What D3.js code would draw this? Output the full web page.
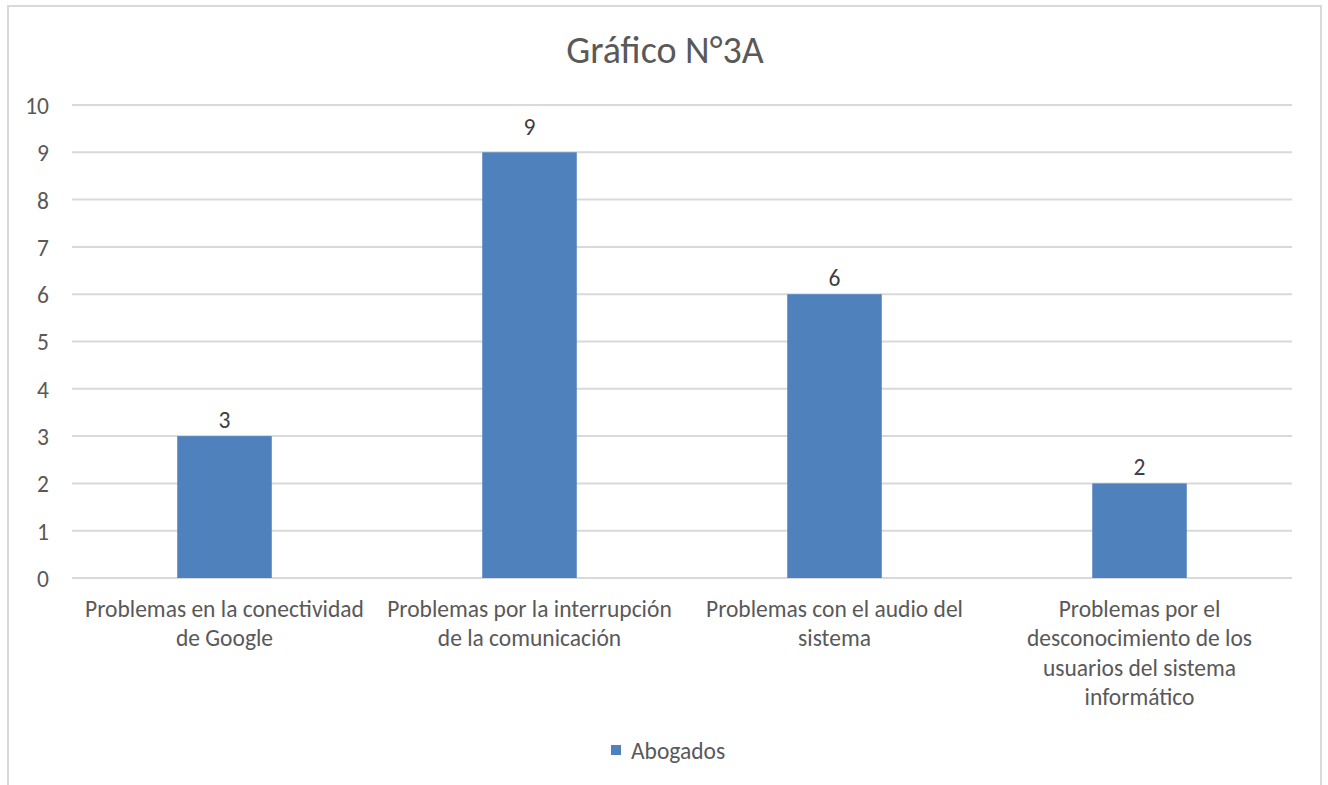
<!DOCTYPE html>
<html><head><meta charset="utf-8">
<script src="https://cdn.jsdelivr.net/npm/d3@7"></script>
<style>body{margin:0;background:#fff;}svg{display:block;}</style>
</head><body>
<svg id="chart" width="1328" height="785"></svg>
<script>
const categories = [
  ["Problemas en la conectividad", "de Google"],
  ["Problemas por la interrupción", "de la comunicación"],
  ["Problemas con el audio del", "sistema"],
  ["Problemas por el", "desconocimiento de los", "usuarios del sistema", "informático"]
];
const values = [3, 9, 6, 2];
const yTicks = [0,1,2,3,4,5,6,7,8,9,10];
const seriesName = "Abogados";
const title = "Gráfico N°3A";

const FONT = "Carlito, Lato, 'Open Sans', sans-serif";
const TXT = "#595959";
const FS = 23.5;
const svg = d3.select("#chart");

// frame
svg.append("rect").attr("x",8).attr("y",6).attr("width",1313).attr("height",800)
  .attr("fill","none").attr("stroke","#d9d9d9").attr("stroke-width",2);
// cropped document text above
svg.append("text").attr("x",663).attr("y",-4).attr("text-anchor","middle")
  .attr("font-family","'Liberation Serif', serif").attr("font-size",18).attr("fill","#000").text("p");

const m = {l:72, r:1292, t:105, b:578};
const x = d3.scaleBand().domain(d3.range(categories.length)).range([m.l, m.r]).paddingInner(0.69).paddingOuter(0.345);
const xb = d3.scaleBand().domain(d3.range(categories.length)).range([m.l, m.r]);
const y = d3.scaleLinear().domain([0,10]).range([m.b, m.t]);

// gridlines
svg.append("g").selectAll("line").data(yTicks).join("line")
  .attr("x1",m.l).attr("x2",m.r).attr("y1",d=>y(d)).attr("y2",d=>y(d))
  .attr("stroke","#d9d9d9").attr("stroke-width",2);

// y labels
const yAxis = d3.axisLeft(y).tickValues(yTicks).tickSize(0).tickPadding(0);
const ga = svg.append("g").attr("transform","translate(49,0)").call(yAxis);
ga.select(".domain").remove();
ga.selectAll("text").attr("font-family",FONT).attr("font-size",FS).attr("fill",TXT).attr("dy","0.36em");

// bars
svg.append("g").selectAll("rect").data(values).join("rect")
  .attr("x",(d,i)=>x(i)).attr("width",x.bandwidth())
  .attr("y",d=>y(d)).attr("height",d=>y(0)-y(d)).attr("fill","#4f81bd");

// data labels
const vmax = d3.max(values);
svg.append("g").selectAll("text").data(values).join("text")
  .attr("x",(d,i)=>x(i)+x.bandwidth()/2).attr("y",d=>y(d)-(d===vmax?17:8))
  .attr("text-anchor","middle").attr("font-family",FONT).attr("font-size",FS).attr("fill","#404040")
  .text(d=>d);

// category labels
const cg = svg.append("g").selectAll("text").data(categories).join("text")
  .attr("text-anchor","middle").attr("font-family",FONT).attr("font-size",FS).attr("fill",TXT);
cg.each(function(lines,i){
  const t = d3.select(this);
  lines.forEach((ln,k)=>{
    t.append("tspan").attr("x",xb(i)+xb.bandwidth()/2).attr("y",617+k*29.3).text(ln);
  });
});

// title
svg.append("text").attr("x",665).attr("y",63).attr("text-anchor","middle")
  .attr("font-family",FONT).attr("font-size",38).attr("fill",TXT).text(title);

// legend
svg.append("rect").attr("x",611).attr("y",745).attr("width",10).attr("height",10).attr("fill","#4f81bd");
svg.append("text").attr("x",631).attr("y",759).attr("font-family",FONT).attr("font-size",FS)
  .attr("fill",TXT).text(seriesName);
</script>
</body></html>
